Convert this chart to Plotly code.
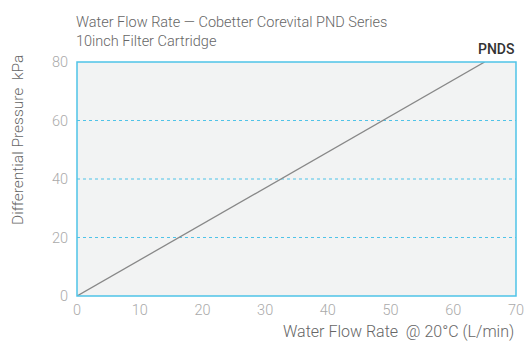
import plotly.graph_objects as go

flow = [0, 65]
pressure = [0, 80]
series_name = "PNDS"
x_ticks = [0, 10, 20, 30, 40, 50, 60, 70]
y_ticks = [0, 20, 40, 60, 80]
title_text = "Water Flow Rate — Cobetter Corevital PND Series<br>10inch Filter Cartridge"
x_title = "Water Flow Rate  @ 20°C (L/min)"
y_title = "Differential Pressure  kPa"

W, H = 525, 342
L, R, T, B = 77, 9, 62, 46
PW, PH = W - L - R, H - T - B


def px(fx):
    return (fx - L) / PW


def py(fy):
    return (H - B - fy) / PH


fig = go.Figure()
fig.add_trace(go.Scatter(x=flow, y=pressure, mode="lines", name=series_name,
                         line=dict(color="#888888", width=1.3), showlegend=False))

for yv in y_ticks[1:-1]:
    fig.add_shape(type="line", xref="paper", x0=0, x1=1, yref="y", y0=yv, y1=yv,
                  line=dict(color="#4fc3e8", width=1, dash="dot"), layer="below")

fig.add_shape(type="rect", xref="paper", yref="paper", x0=0, x1=1, y0=0, y1=1,
              line=dict(color="#4fc3e8", width=1.5))

fig.add_annotation(text=series_name, xref="paper", yref="paper", x=1, y=1,
                   xanchor="right", yanchor="bottom", showarrow=False, yshift=3,
                   font=dict(family="Roboto", size=14, color="#333333", weight=500))

fig.add_annotation(text=title_text, xref="paper", yref="paper", x=px(74), y=py(12),
                   xanchor="left", yanchor="top", align="left", showarrow=False,
                   font=dict(family="Roboto", size=14.5, color="#666666", weight=300))

fig.add_annotation(text=x_title, xref="paper", yref="paper", x=1, y=py(331),
                   xanchor="right", yanchor="middle", showarrow=False,
                   font=dict(family="Roboto", size=16, color="#666666", weight=300))

fig.add_annotation(text=y_title, xref="paper", yref="paper", x=px(18), y=py(140),
                   xanchor="center", yanchor="middle", textangle=-90, showarrow=False,
                   font=dict(family="Roboto", size=15.5, color="#666666", weight=300))

fig.update_layout(
    width=W, height=H,
    margin=dict(l=L, r=R, t=T, b=B, autoexpand=False),
    paper_bgcolor="white", plot_bgcolor="#f2f3f3",
    font=dict(family="Roboto", color="#666666", weight=300),
    xaxis=dict(range=[0, 70], tickvals=x_ticks, showgrid=False, zeroline=False,
               tickfont=dict(size=14.5, color="#aaaaaa", weight=300), ticks="", showline=False,
               ticklabelstandoff=3, automargin=False, ticklabeloverflow="allow"),
    yaxis=dict(range=[0, 80], tickvals=y_ticks, showgrid=False, zeroline=False,
               tickfont=dict(size=14.5, color="#aaaaaa", weight=300), ticks="", showline=False,
               ticklabelstandoff=8, automargin=False, ticklabeloverflow="allow"),
)

fig.write_html("out.html", config={"displayModeBar": False},
               post_script="document.body.style.margin='0';document.body.style.overflow='hidden';")
